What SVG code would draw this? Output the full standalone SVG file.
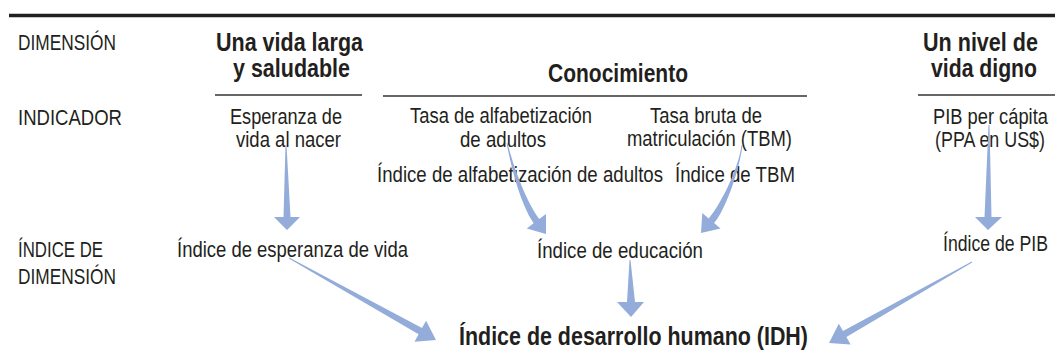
<svg xmlns="http://www.w3.org/2000/svg" width="1055" height="358" viewBox="0 0 1055 358">
<style>
.t{font-family:"Liberation Sans",Arial,sans-serif;font-size:22.5px;fill:#231f20}
.b{font-family:"Liberation Sans",Arial,sans-serif;font-size:25px;font-weight:bold;fill:#231f20}
.rule{stroke:#333;stroke-width:1.5;fill:none}
.arr{fill:#93acd9;stroke:none}
</style>
<rect width="1055" height="358" fill="#fff"/>
<line x1="9" y1="15.5" x2="1055" y2="15.5" stroke="#231f20" stroke-width="3.5"/>
<g id="labels">
<text class="t" transform="translate(18,50) scale(0.82,1)" textLength="119.5" lengthAdjust="spacingAndGlyphs">DIMENSIÓN</text>
<text class="t" transform="translate(18,125) scale(0.82,1)" textLength="126.8" lengthAdjust="spacingAndGlyphs">INDICADOR</text>
<text class="t" transform="translate(18,257) scale(0.82,1)" textLength="103.7" lengthAdjust="spacingAndGlyphs">ÍNDICE DE</text>
<text class="t" transform="translate(18,284) scale(0.82,1)" textLength="119.5" lengthAdjust="spacingAndGlyphs">DIMENSIÓN</text>
</g>
<g id="dim-vida">
<text class="b" transform="translate(216,51) scale(0.82,1)" textLength="179.3" lengthAdjust="spacingAndGlyphs">Una vida larga</text>
<text class="b" transform="translate(233,77) scale(0.82,1)" textLength="142.7" lengthAdjust="spacingAndGlyphs">y saludable</text>
<line class="rule" x1="215" y1="95" x2="362" y2="95"/>
</g>
<g id="dim-conocimiento">
<text class="b" transform="translate(548,82) scale(0.82,1)" textLength="170.7" lengthAdjust="spacingAndGlyphs">Conocimiento</text>
<line class="rule" x1="383" y1="96" x2="807" y2="96"/>
</g>
<g id="dim-nivel">
<text class="b" transform="translate(923,51) scale(0.82,1)" textLength="140.2" lengthAdjust="spacingAndGlyphs">Un nivel de</text>
<text class="b" transform="translate(931,77) scale(0.82,1)" textLength="129.3" lengthAdjust="spacingAndGlyphs">vida digno</text>
<line class="rule" x1="918" y1="95" x2="1055" y2="95"/>
</g>
<g id="ind-esperanza">
<text class="t" transform="translate(230,124) scale(0.82,1)" textLength="136.6" lengthAdjust="spacingAndGlyphs">Esperanza de</text>
<text class="t" transform="translate(236,147) scale(0.82,1)" textLength="128" lengthAdjust="spacingAndGlyphs">vida al nacer</text>
</g>
<g id="ind-alfabetizacion">
<text class="t" transform="translate(410,123) scale(0.82,1)" textLength="222" lengthAdjust="spacingAndGlyphs">Tasa de alfabetización</text>
<text class="t" transform="translate(460,147) scale(0.82,1)" textLength="104.9" lengthAdjust="spacingAndGlyphs">de adultos</text>
</g>
<g id="ind-tbm">
<text class="t" transform="translate(650,123) scale(0.82,1)" textLength="136.6" lengthAdjust="spacingAndGlyphs">Tasa bruta de</text>
<text class="t" transform="translate(627,146) scale(0.82,1)" textLength="201.2" lengthAdjust="spacingAndGlyphs">matriculación (TBM)</text>
</g>
<g id="ind-pib">
<text class="t" transform="translate(933,124) scale(0.82,1)" textLength="140.2" lengthAdjust="spacingAndGlyphs">PIB per cápita</text>
<text class="t" transform="translate(935,147) scale(0.82,1)" textLength="134.1" lengthAdjust="spacingAndGlyphs">(PPA en US$)</text>
</g>
<g id="idx-alfabetizacion">
<text class="t" transform="translate(377,182) scale(0.82,1)" textLength="348.8" lengthAdjust="spacingAndGlyphs">Índice de alfabetización de adultos</text>
</g>
<g id="idx-tbm">
<text class="t" transform="translate(675,182) scale(0.82,1)" textLength="146.3" lengthAdjust="spacingAndGlyphs">Índice de TBM</text>
</g>
<g id="idx-esperanza">
<text class="t" transform="translate(177,257) scale(0.82,1)" textLength="281.7" lengthAdjust="spacingAndGlyphs">Índice de esperanza de vida</text>
</g>
<g id="idx-educacion">
<text class="t" transform="translate(537,258) scale(0.82,1)" textLength="202.4" lengthAdjust="spacingAndGlyphs">Índice de educación</text>
</g>
<g id="idx-pib">
<text class="t" transform="translate(943,251) scale(0.82,1)" textLength="128" lengthAdjust="spacingAndGlyphs">Índice de PIB</text>
</g>
<g id="idh">
<text class="b" transform="translate(459,345) scale(0.82,1)" textLength="425.6" lengthAdjust="spacingAndGlyphs">Índice de desarrollo humano (IDH)</text>
</g>
<g id="connectors">
<path class="arr" d="M286.5,145 L290.5,217 L300,217 L287,230 L274,217 L283.5,217 L285.5,145 Z"/>
<path class="arr" d="M989.5,125 L991.5,217 L1002,217 L988,230 L975,217 L984.5,217 L988.5,125 Z"/>
<path class="arr" d="M630.5,260 L635,302 L644,302 L631,317 L617,302 L627,302 L629.5,260 Z"/>
<path class="arr" d="M288.8,258.4 L418.6,334.3 L414.5,341.7 L436,340 L426.1,320.7 L422,328.1 L289.2,257.6 Z"/>
<path class="arr" d="M971.8,261.6 L843,331.1 L838.8,323.7 L829,343 L850.6,344.5 L846.4,337.1 L972.2,262.4 Z"/>
<path class="arr" d="M506.5,143 C511,165 519,201 533.6,223.3 L526.8,228.4 L546,234 L546,214 L539.2,219.1 C525,199 513,165 507.5,143 Z"/>
<path class="arr" d="M741.5,145 C739.5,165 722,203 708.7,218.5 L702.3,213 L701,233 L720.5,228.6 L714.1,223.1 C727,208 740.5,165 742.5,145 Z"/>
</g>
</svg>
